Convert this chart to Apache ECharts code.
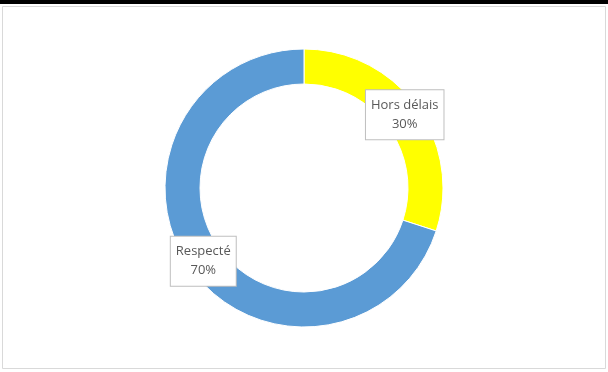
<!DOCTYPE html>
<html>
<head>
<meta charset="utf-8">
<script src="https://cdn.jsdelivr.net/npm/echarts@6/dist/echarts.min.js"></script>
<style>
html,body{margin:0;padding:0;background:#fff;}
#c{width:608px;height:372px;}
</style>
</head>
<body>
<div id="c"></div>
<script>
const categories = ['Hors délais', 'Respecté'];
const values = [30, 70];
const colors = ['#ffff00', '#5b9bd5'];

const chart = echarts.init(document.getElementById('c'), null, {renderer: 'canvas'});
chart.setOption({
  animation: false,
  backgroundColor: '#fff',
  graphic: [
    {type: 'rect', shape: {x: 0, y: 0, width: 608, height: 4}, style: {fill: '#000'}, silent: true},
    {type: 'rect', shape: {x: 2.5, y: 6.5, width: 603, height: 362}, style: {fill: 'none', stroke: '#d9d9d9', lineWidth: 1}, silent: true}
  ],
  series: [{
    type: 'pie',
    center: [304, 188],
    radius: [104, 139],
    startAngle: 90,
    clockwise: true,
    avoidLabelOverlap: false,
    itemStyle: {borderColor: '#fff', borderWidth: 1},
    label: {
      show: true,
      position: 'inside',
      formatter: '{b}\n{d}%',
      color: '#595959',
      fontSize: 13,
      fontFamily: 'Open Sans',
      lineHeight: 19,
      backgroundColor: '#fff',
      borderColor: '#bfbfbf',
      borderWidth: 1,
      padding: [6, 5, 5, 5]
    },
    labelLine: {show: false},
    emphasis: {disabled: true},
    data: categories.map((n, i) => ({name: n, value: values[i], itemStyle: {color: colors[i]}}))
  }]
});
</script>
</body>
</html>
